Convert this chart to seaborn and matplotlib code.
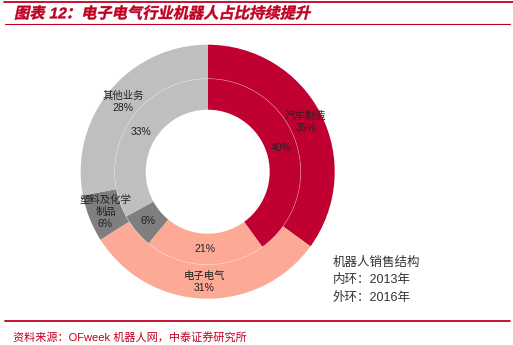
import numpy as np
import matplotlib
matplotlib.use("Agg")
import matplotlib.pyplot as plt
import seaborn as sns
from matplotlib.patches import Circle, PathPatch
from matplotlib.lines import Line2D
from matplotlib.textpath import TextPath
from matplotlib.font_manager import FontProperties
from matplotlib.transforms import Affine2D

sns.set_theme(style="white")
plt.rcParams['font.family'] = ['Liberation Sans', 'Noto Sans CJK SC', 'DejaVu Sans']

# ---- data ----
categories = ["汽车制造", "电子电气", "塑料及化学\n制品", "其他业务"]
share_2016 = [35, 31, 6, 28]   # outer ring
share_2013 = [40, 21, 6, 33]   # inner ring
colors = ["#BF0030", "#FCAA96", "#7F7F7F", "#BFBFBF"]
title = "图表 12：电子电气行业机器人占比持续提升"
legend_lines = ["机器人销售结构", "内环：2013年", "外环：2016年"]
source = "资料来源：OFweek 机器人网，中泰证券研究所"

W, H = 513, 345
DPI = 100
fig = plt.figure(figsize=(W / DPI, H / DPI), dpi=DPI)

# donut geometry (pixels)
cx, cy, R = 207.7, 171.7, 127
ax = fig.add_axes([(cx - R) / W, (H - cy - R) / H, 2 * R / W, 2 * R / H])

r_out, r_mid, r_hole = 1.0, 93 / 127, 62 / 127

ax.pie(share_2016, radius=r_out, colors=colors, startangle=90, counterclock=False,
       wedgeprops=dict(width=r_out - r_mid, linewidth=0))
ax.pie(share_2013, radius=r_mid, colors=colors, startangle=90, counterclock=False,
       wedgeprops=dict(width=r_mid - r_hole, linewidth=0))
ax.add_patch(Circle((0, 0), r_mid, fill=False, edgecolor="white", linewidth=0.5, alpha=0.35))
ax.set_xlim(-1, 1)
ax.set_ylim(-1, 1)
ax.set_aspect("equal")
ax.axis("off")

fam = ['Liberation Sans', 'Noto Sans CJK SC']

def mid_angles(vals):
    c = np.cumsum([0] + list(vals))
    tot = c[-1]
    return [np.deg2rad(90 - 360 * (c[i] + c[i + 1]) / 2 / tot) for i in range(len(vals))]

# outer labels
ro = (r_out + r_mid) / 2
for name, v, a in zip(categories, share_2016, mid_angles(share_2016)):
    ax.text(ro * np.cos(a), ro * np.sin(a), f"{name}\n{v}%", ha="center", va="center",
            fontsize=7.5, family=fam, color="#222222", linespacing=1.25)

# inner labels
ri = (r_mid + r_hole) / 2
for v, a in zip(share_2013, mid_angles(share_2013)):
    ax.text(ri * np.cos(a), ri * np.sin(a), f"{v}%", ha="center", va="center",
            fontsize=7.5, family=fam, color="#222222")

# legend text
for i, s in enumerate(legend_lines):
    fig.text(333 / W, 1 - (263 + 17.5 * i) / H, s, ha="left", va="center",
             fontsize=9, family=fam, color="#333333")

# title (bold, slanted) & rules
red = "#C00020"
try:
    fp = FontProperties(family=fam, weight="bold", size=11)
    tp = TextPath((0, 0), title, prop=fp)
    s = DPI / 72
    tr = Affine2D().skew_deg(12, 0).scale(s).translate(14, H - 12.7 - 4.0 * s)
    fig.add_artist(PathPatch(tp, transform=tr, facecolor=red, edgecolor=red, linewidth=0.3))
except Exception:
    fig.text(14 / W, 1 - 12.7 / H, title, ha="left", va="center", fontsize=11,
             fontweight="bold", family=fam, color=red, style="italic")

fig.add_artist(Line2D([4 / W, 1], [1 - 1.5 / H] * 2, color=red, linewidth=1.3,
                      transform=fig.transFigure))
fig.add_artist(Line2D([5 / W, 510 / W], [1 - 24.3 / H] * 2, color=red, linewidth=0.8,
                      transform=fig.transFigure))
fig.add_artist(Line2D([5 / W, 510 / W], [1 - 321 / H] * 2, color=red, linewidth=1.3,
                      transform=fig.transFigure))
fig.text(13 / W, 1 - 337.5 / H, source, ha="left", va="center", fontsize=8,
         family=fam, color=red)

fig.savefig("out.png", dpi=DPI)
